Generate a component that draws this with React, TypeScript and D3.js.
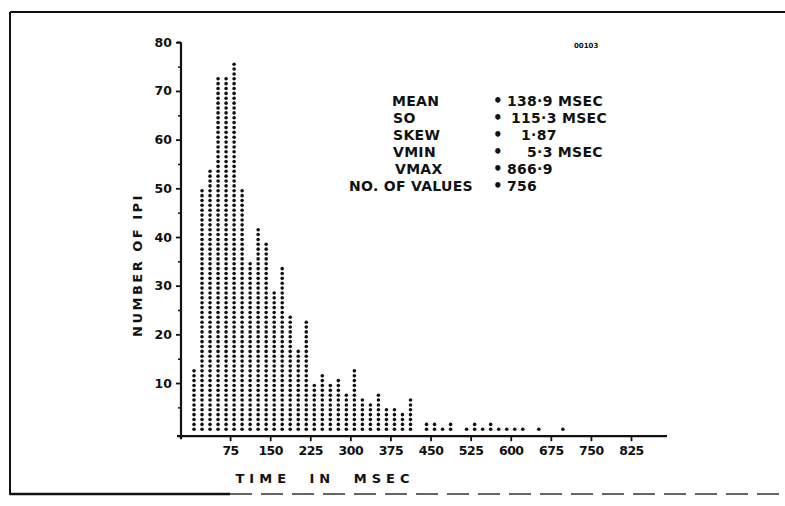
import React, { useEffect, useRef } from 'react';
import * as d3 from 'd3';

// number of intervals per 15 ms bin
const BIN_WIDTH = 15;
const COUNTS = [
  13, 50, 54, 73, 73, 76, 50, 35, 42, 39,
  29, 34, 24, 17, 23, 10, 12, 10, 11, 8,
  13, 7, 6, 8, 5, 5, 4, 7, 0, 2,
  2, 1, 2, 0, 1, 2, 1, 2, 1, 1,
  1, 1, 0, 1, 0, 0, 1,
];

const X_TICKS = [75, 150, 225, 300, 375, 450, 525, 600, 675, 750, 825];
const Y_TICKS = [10, 20, 30, 40, 50, 60, 70, 80];
const Y_MINOR = [5, 15, 25, 35, 45, 55, 65, 75];

const STAT_LABELS = ['MEAN', 'SO', 'SKEW', 'VMIN', 'VMAX', 'NO. OF VALUES'];
const STAT_VALUES = ['138·9 MSEC', '115·3 MSEC', '1·87', '5·3 MSEC', '866·9', '756'];

const FONT = '"DejaVu Sans", "Liberation Sans", sans-serif';

export default function App() {
  const width = 785;
  const height = 506;

  const x = d3.scaleLinear().domain([0, 825]).range([190, 631]);
  const y = d3.scaleLinear().domain([0, 80]).range([431.7, 42.3]);

  const yAxisRef = useRef<SVGGElement>(null);
  const yMinorRef = useRef<SVGGElement>(null);
  const xAxisRef = useRef<SVGGElement>(null);

  const axisX = 181;
  const axisY = y(0) + 4.5;

  useEffect(() => {
    const ya = d3.axisLeft(y).tickValues(Y_TICKS).tickSize(5).tickSizeOuter(0).tickPadding(4).tickFormat(d3.format('d'));
    const yg = d3.select(yAxisRef.current!).call(ya as any);
    yg.select('.domain').remove();
    yg.selectAll('line').attr('stroke', '#111').attr('stroke-width', 1.8);
    yg.selectAll('text').attr('font-family', FONT).attr('font-size', 12.5).attr('font-weight', 'bold').attr('fill', '#111');

    const ym = d3.axisLeft(y).tickValues(Y_MINOR).tickSize(3).tickFormat(() => '');
    const mg = d3.select(yMinorRef.current!).call(ym as any);
    mg.select('.domain').remove();
    mg.selectAll('line').attr('stroke', '#111').attr('stroke-width', 1.5);

    const xa = d3.axisBottom(x).tickValues(X_TICKS).tickSize(5).tickSizeOuter(0).tickPadding(5).tickFormat(d3.format('d'));
    const xg = d3.select(xAxisRef.current!).call(xa as any);
    xg.select('.domain').remove();
    xg.selectAll('line').attr('stroke', '#111').attr('stroke-width', 1.8);
    xg.selectAll('text').attr('font-family', FONT).attr('font-size', 12.5).attr('font-weight', 'bold').attr('fill', '#111').attr('letter-spacing', -0.5);
  }, []);

  const dots: JSX.Element[] = [];
  COUNTS.forEach((n, i) => {
    const cx = x(i * BIN_WIDTH + BIN_WIDTH / 2);
    for (let k = 1; k <= n; k++) {
      dots.push(<circle key={`${i}-${k}`} cx={cx} cy={y(k - 0.5)} r={1.8} fill="#111" />);
    }
  });

  const rowY = (i: number) => 101 + i * 17;
  const valueX = [507, 511, 521, 527, 507, 507];
  const labelX = [392, 393, 393, 393, 395, 349];

  return (
    <svg width={width} height={height} style={{ position: 'absolute', left: 0, top: 0, background: '#fff' }}>
      {/* frame */}
      <line x1={10} y1={12} x2={785} y2={12} stroke="#111" strokeWidth={2} />
      <line x1={10} y1={12} x2={10} y2={495} stroke="#111" strokeWidth={2} />
      <line x1={10} y1={494} x2={230} y2={494} stroke="#111" strokeWidth={2.5} />
      <line x1={230} y1={494} x2={785} y2={494} stroke="#333" strokeWidth={1.5} strokeDasharray="22,9" />

      {dots}

      {/* axis lines */}
      <line x1={axisX} y1={y(80)} x2={axisX} y2={axisY + 3} stroke="#111" strokeWidth={2.2} />
      <line x1={axisX - 4} y1={y(80)} x2={axisX} y2={y(80)} stroke="#111" strokeWidth={1.8} />
      <line x1={axisX - 4} y1={axisY} x2={667} y2={axisY} stroke="#111" strokeWidth={2.2} />
      <g ref={yAxisRef} transform={`translate(${axisX},0)`} />
      <g ref={yMinorRef} transform={`translate(${axisX},0)`} />
      <g ref={xAxisRef} transform={`translate(0,${axisY})`} />

      {/* axis titles */}
      <text
        transform="translate(137,265) rotate(-90)"
        textAnchor="middle"
        dy="0.35em"
        fontFamily={FONT}
        fontSize={13}
        fontWeight="bold"
        letterSpacing={2.5}
        fill="#111"
      >
        NUMBER OF IPI
      </text>
      <text
        x={325}
        y={478}
        textAnchor="middle"
        dy="0.35em"
        fontFamily={FONT}
        fontSize={13}
        fontWeight="bold"
        letterSpacing={5}
        wordSpacing={9}
        fill="#111"
      >
        TIME IN MSEC
      </text>

      {/* statistics block */}
      {STAT_LABELS.map((s, i) => (
        <g key={s} fontFamily={FONT} fontSize={14} fontWeight="bold" fill="#111" letterSpacing={0.3}>
          <text x={labelX[i]} y={rowY(i)} dy="0.35em">{s}</text>
          <text x={493} y={rowY(i)} dy="0.35em" fontSize={15}>•</text>
          <text x={valueX[i]} y={rowY(i)} dy="0.35em">{STAT_VALUES[i]}</text>
        </g>
      ))}

      <text x={574} y={48} fontFamily={FONT} fontSize={7} fontWeight="bold" fill="#111">00103</text>
    </svg>
  );
}
